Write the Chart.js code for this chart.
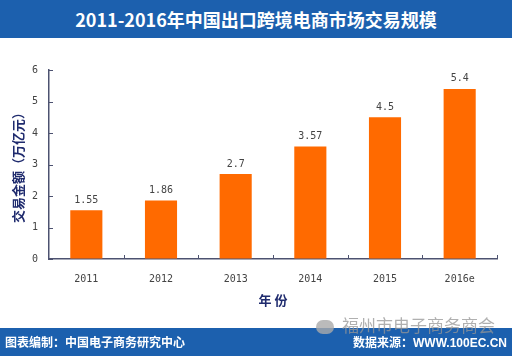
<!DOCTYPE html>
<html><head><meta charset="utf-8">
<script src="https://cdn.jsdelivr.net/npm/chart.js@4/dist/chart.umd.min.js"></script>
<style>
html,body{margin:0;padding:0;background:#fff;}
#wrap{position:relative;width:512px;height:356px;overflow:hidden;font-family:"Noto Sans CJK SC",sans-serif;}
#c{position:absolute;left:0;top:0;}
#top{position:absolute;left:0;top:0;width:512px;height:38px;background:#1c60ae;color:#fff;font-weight:bold;font-size:18px;line-height:38px;text-align:center;letter-spacing:0px;}
#bot{position:absolute;left:0;top:328px;width:512px;height:28px;background:#1c60ae;color:#fff;font-weight:bold;font-size:12px;}
#bl{position:absolute;left:5px;top:5px;line-height:18px;}
#br{position:absolute;right:5px;top:6px;line-height:18px;font-family:"Liberation Sans","Noto Sans CJK SC",sans-serif;}
#wm{position:absolute;left:316px;top:313px;color:rgba(150,150,150,0.75);font-size:17px;line-height:24px;white-space:nowrap;}
#wm span.ic{display:inline-block;width:18px;height:14px;border-radius:9px;background:rgba(170,170,170,0.8);vertical-align:middle;margin-right:8px;}
</style></head>
<body><div id="wrap">
<canvas id="c" width="512" height="356"></canvas>
<div id="top">2011-2016年中国出口跨境电商市场交易规模</div>
<div id="bot"><div id="bl">图表编制：中国电子商务研究中心</div><div id="br">数据来源：WWW.100EC.CN</div></div>
<div id="wm"><span class="ic"></span>福州市电子商务商会</div>
</div>
<script>
const categories = ["2011","2012","2013","2014","2015","2016e"];
const values = [1.55, 1.86, 2.7, 3.57, 4.5, 5.4];
const valueLabels = ["1.55","1.86","2.7","3.57","4.5","5.4"];
const yTicks = [0,1,2,3,4,5,6];
const yTitle = "交易金额（万亿元）";
const xTitle = "年 份";

const axisColor = "#4d5270";
const numFont = {family:"'DejaVu Sans Mono','Liberation Mono',monospace", size:10};

const extras = {
  id:'extras',
  afterDatasetsDraw(chart){
    const ctx = chart.ctx;
    const meta = chart.getDatasetMeta(0);
    ctx.save();
    ctx.fillStyle = "#444";
    ctx.font = "10px 'DejaVu Sans Mono','Liberation Mono',monospace";
    ctx.textAlign = "center";
    ctx.textBaseline = "bottom";
    meta.data.forEach((bar,i)=>{ ctx.fillText(valueLabels[i], bar.x, bar.y - 5); });
    const xs = chart.scales.x, ys = chart.scales.y;
    ctx.strokeStyle = axisColor; ctx.lineWidth = 1;
    const y0 = ys.getPixelForValue(0);
    for (let i=0;i<categories.length;i++){
      const px = i < categories.length-1 ? (xs.getPixelForValue(i)+xs.getPixelForValue(i+1))/2 : xs.right;
      ctx.beginPath(); ctx.moveTo(Math.round(px)+0.5, y0); ctx.lineTo(Math.round(px)+0.5, y0-4); ctx.stroke();
    }
    yTicks.forEach(v=>{
      const py = Math.round(ys.getPixelForValue(v))+0.5;
      ctx.beginPath(); ctx.moveTo(xs.left, py); ctx.lineTo(xs.left+4, py); ctx.stroke();
    });
    ctx.restore();
  }
};

new Chart(document.getElementById('c'), {
  type:'bar',
  data:{labels:categories, datasets:[{data:values, backgroundColor:"#ff6a00", borderWidth:0,
    categoryPercentage:1, barPercentage:0.43}]},
  options:{
    responsive:false, animation:false,
    layout:{padding:{left:0,right:15,top:70,bottom:48}},
    plugins:{legend:{display:false}, tooltip:{enabled:false}},
    scales:{
      x:{
        afterFit(s){ s.height = 49; },
        grid:{display:true, drawOnChartArea:false, drawTicks:false},
        border:{display:true, color:axisColor, width:1.5},
        ticks:{color:"#444", font:numFont, padding:14, maxRotation:0},
        title:{display:true, text:xTitle, color:"#1f2b6e", font:{family:"'Noto Sans CJK SC'", size:13, weight:'bold'}, padding:{top:0,bottom:0}}
      },
      y:{
        min:0, max:6,
        afterFit(s){ s.width = 49; },
        grid:{display:true, drawOnChartArea:false, drawTicks:false},
        border:{display:true, color:axisColor, width:1.5},
        ticks:{stepSize:1, color:"#444", font:numFont, padding:11},
        title:{display:true, text:yTitle, color:"#1f2b6e", font:{family:"'Noto Sans CJK SC'", size:13, weight:'bold'}, padding:{top:10,bottom:0}}
      }
    }
  },
  plugins:[extras]
});
</script>
</body></html>
